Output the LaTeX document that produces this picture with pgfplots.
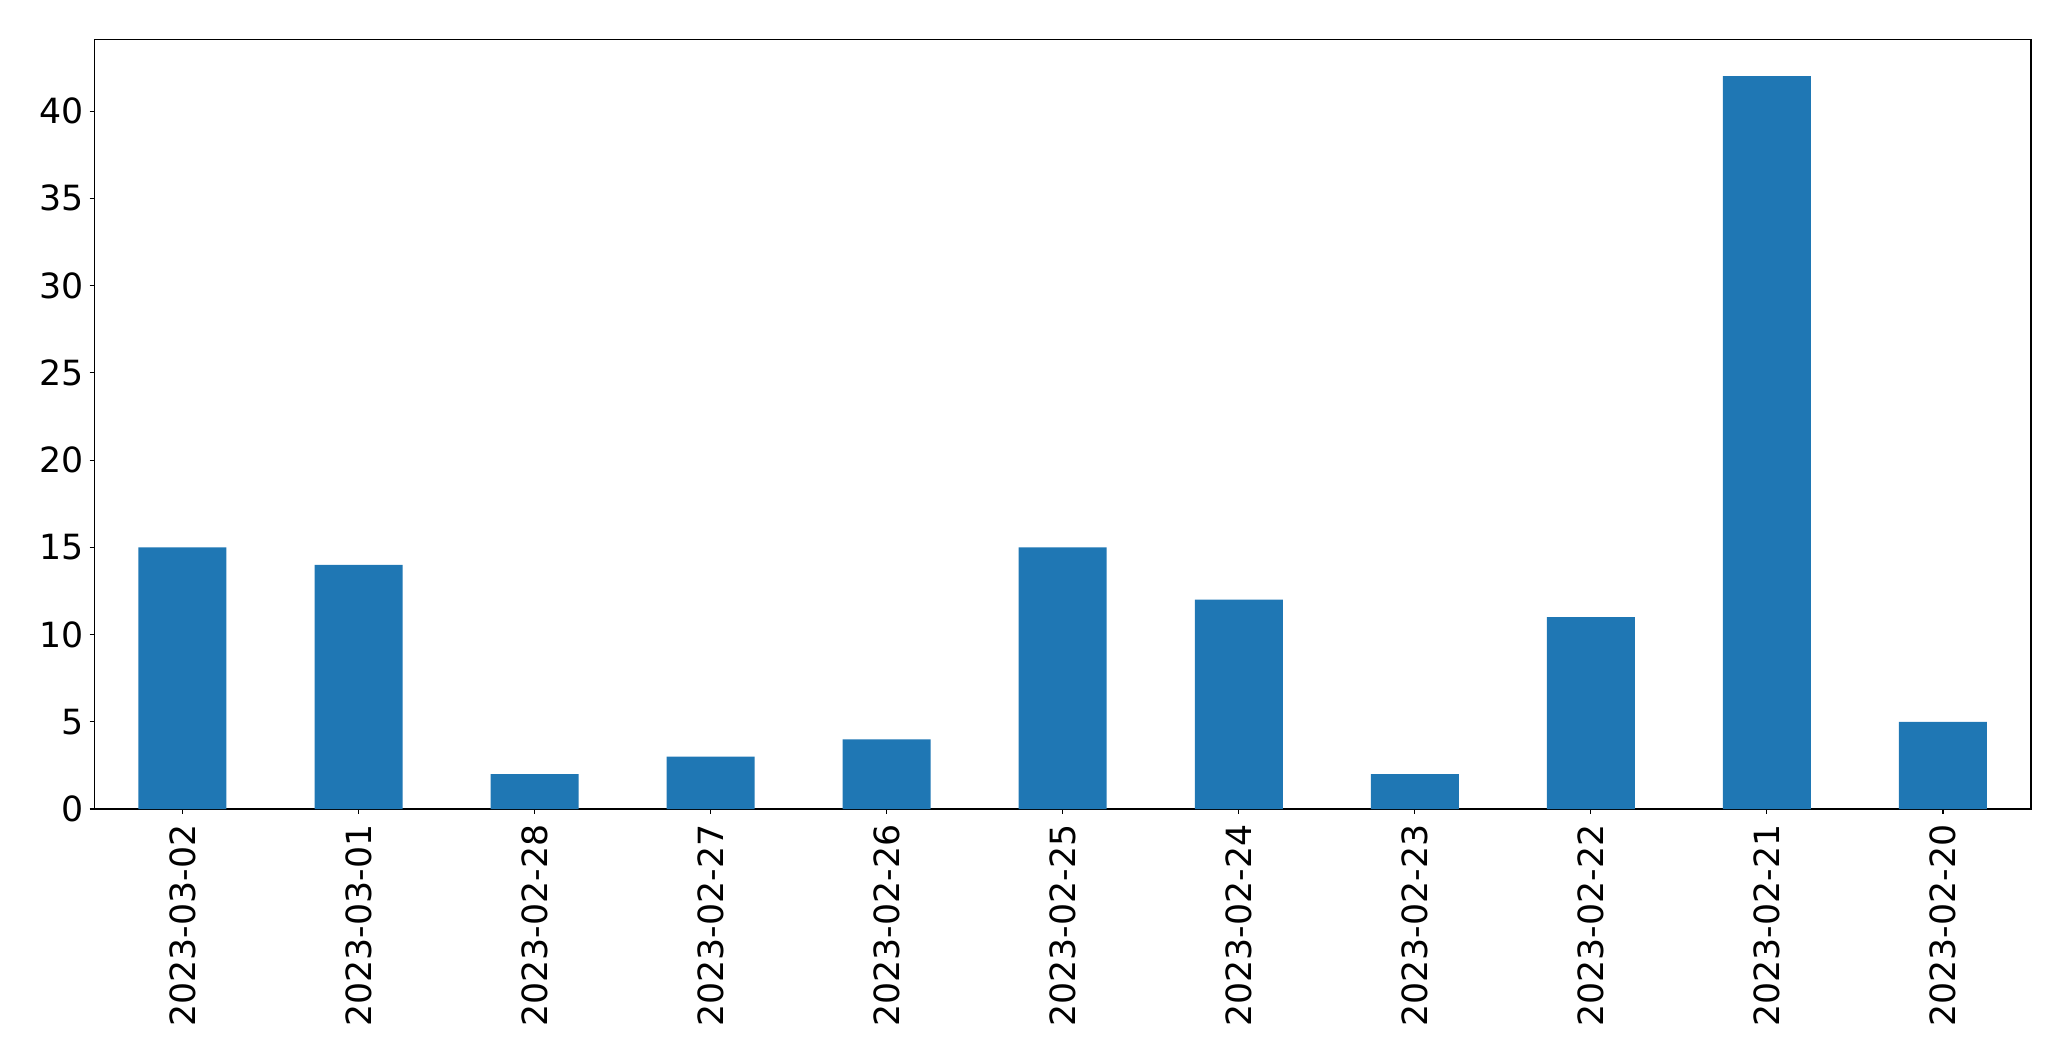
\documentclass[border=0pt]{standalone}
\usepackage{fontspec}
\setmainfont{DejaVu Sans}
\usepackage{pgfplots}
\pgfplotsset{compat=1.18}
\definecolor{mplblue}{HTML}{1F77B4}
\begin{document}
\begin{tikzpicture}
\useasboundingbox (0,0) rectangle (1491.1pt,763.9pt);
\begin{axis}[
  at={(68pt,181.4pt)}, anchor=south west,
  scale only axis,
  width=1394.3pt, height=554pt,
  xmin=-0.5, xmax=10.5, ymin=0, ymax=44.1,
  axis line style={line width=0.8pt},
  xtick={0,1,2,3,4,5,6,7,8,9,10},
  xticklabels={2023-03-02,2023-03-01,2023-02-28,2023-02-27,2023-02-26,2023-02-25,2023-02-24,2023-02-23,2023-02-22,2023-02-21,2023-02-20},
  ytick={0,5,10,15,20,25,30,35,40},
  tick align=outside,
  major tick length=3.5pt,
  every tick/.style={black, line width=0.8pt},
  xtick pos=bottom, ytick pos=left,
  /pgf/number format/assume math mode=true,
  tick label style={font=\fontsize{25}{30}\selectfont},
  x tick label style={rotate=90, anchor=east, inner sep=0pt, xshift=0pt},
  y tick label style={inner sep=0pt},
  xticklabel shift=7.5pt,
  yticklabel shift=4pt,
]
\addplot[ybar, bar width=0.5, fill=mplblue, draw=none] coordinates {
(0,15) (1,14) (2,2) (3,3) (4,4) (5,15) (6,12) (7,2) (8,11) (9,42) (10,5)
};
\end{axis}
\end{tikzpicture}
\end{document}
